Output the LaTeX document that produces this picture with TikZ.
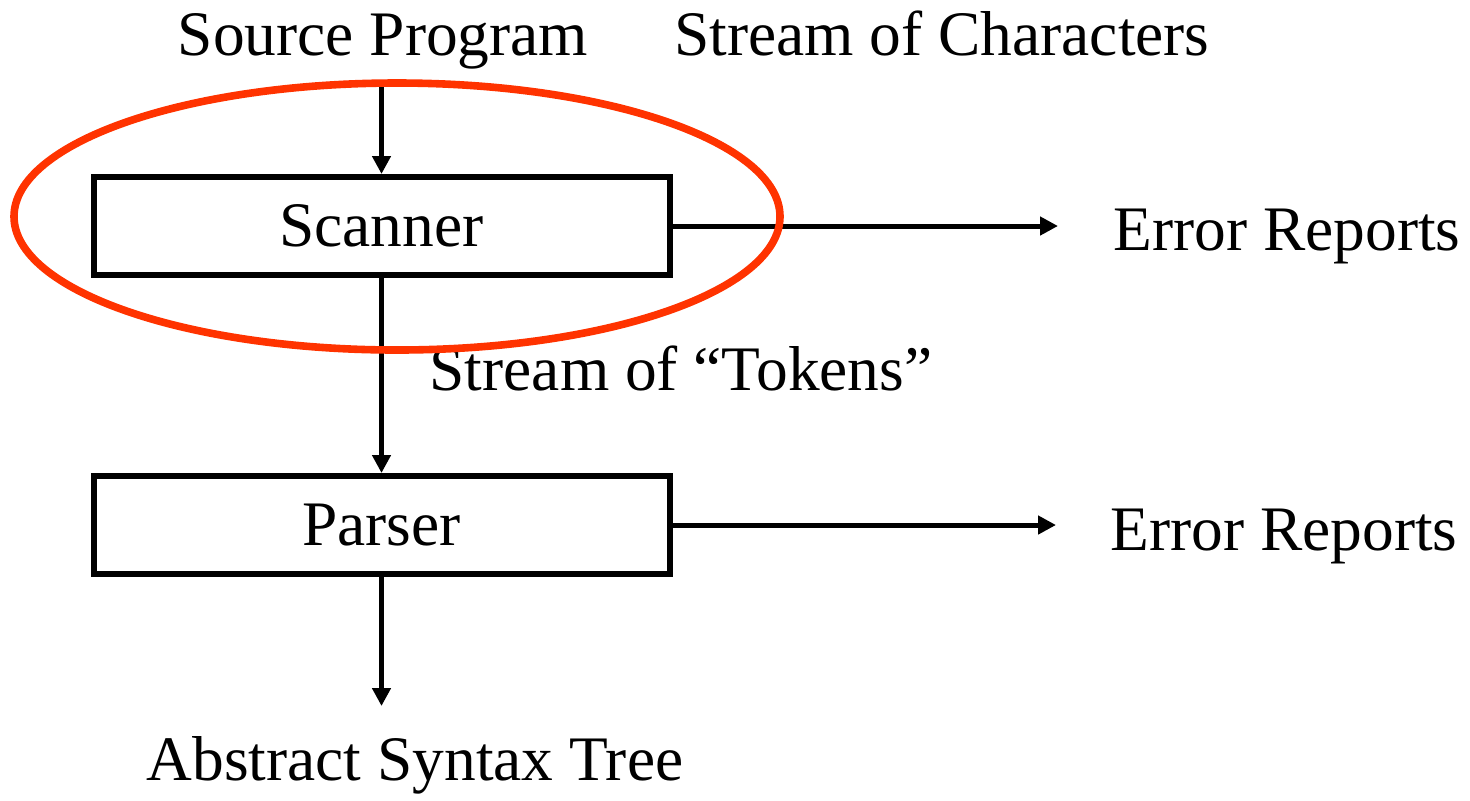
\documentclass[tikz,border=0pt]{standalone}
\usepackage{fontspec}
\setmainfont{Liberation Serif}
\usetikzlibrary{arrows.meta}
\definecolor{hilite}{RGB}{255,51,0}
\begin{document}
\begin{tikzpicture}[x=0.5pt,y=-0.5pt,
  label/.style={inner sep=0pt,anchor=base,font=\fontsize{31.7pt}{38pt}\selectfont},
  stage/.style={draw,line width=3pt,minimum width=288pt,minimum height=49pt,inner sep=0pt,
    font=\fontsize{31.7pt}{38pt}\selectfont},
  flow/.style={line width=2.5pt,-{Triangle[length=9pt,width=9pt]}},
  focus/.style={draw=hilite,line width=3.8pt}]
\useasboundingbox (0,0) rectangle (1470,800);

% pipeline stages
\node[stage] (scan) at (381.5,226) {Scanner};
\node[stage] (pars) at (381.5,525) {Parser};

% labels
\node[label] (src) at (383,55) {Source Program};
\node[label] (chars) at (942,55) {Stream of Characters};
\node[label] (toks) at (681,390) {Stream of “Tokens”};
\node[label] (err1) at (1287,250) {Error Reports};
\node[label] (err2) at (1284,550) {Error Reports};
\node[label] (ast) at (415,780) {Abstract Syntax Tree};

% connector ends
\coordinate (srcout) at (381.5,82);
\coordinate (astin) at (381.5,706);
\coordinate (err1in) at (1058,226);
\coordinate (err2in) at (1056,525);

\draw[flow] (srcout) -- (scan.north);
\draw[flow] (scan.south) -- (pars.north);
\draw[flow] (pars.south) -- (astin);
\draw[flow] (scan.east) -- (err1in);
\draw[flow] (pars.east) -- (err2in);

% highlight round the scanner
\draw[focus] (397,216.5) ellipse [x radius=383, y radius=133.5];
\end{tikzpicture}
\end{document}
